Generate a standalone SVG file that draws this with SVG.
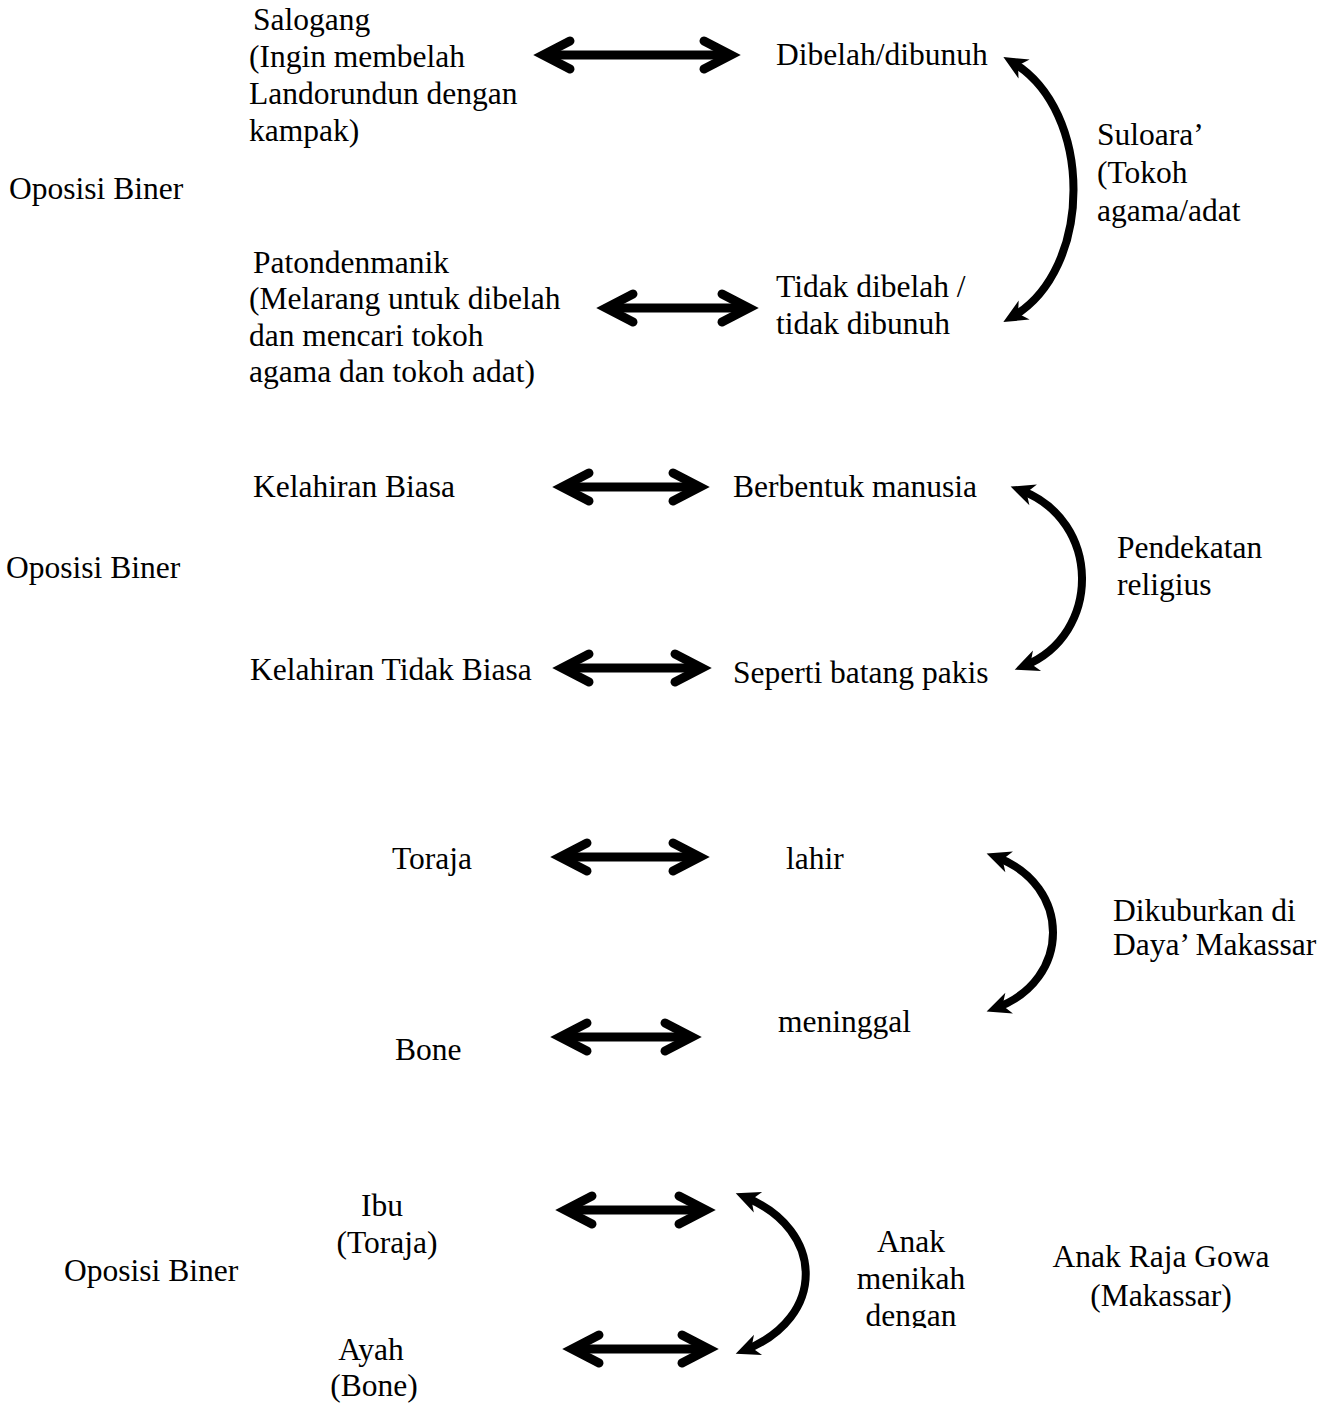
<svg xmlns="http://www.w3.org/2000/svg" width="1338" height="1404" viewBox="0 0 1338 1404">
<style>
text{font-family:"Liberation Serif","Times New Roman",serif;font-size:31.5px;fill:#000}
.c{text-anchor:middle}
.ar{fill:none;stroke:#000;stroke-width:9}
.hd{fill:none;stroke:#000;stroke-width:9;stroke-linecap:round;stroke-linejoin:miter;stroke-miterlimit:10}
.cv{fill:none;stroke:#000;stroke-width:8}
</style>
<defs>
<marker id="ah" viewBox="-26 -14 28 28" markerWidth="28" markerHeight="28" refX="-10" refY="0" orient="auto-start-reverse" markerUnits="userSpaceOnUse">
<path d="M-24,-11 L0,0 L-24,11 L-17,0 Z" fill="#000"/>
</marker>
<clipPath id="clipd"><rect x="0" y="0" width="1338" height="1328"/></clipPath>
</defs>
<g id="connectors">
<g id="a1"><line class="ar" x1="545" y1="55" x2="729" y2="55"/><path class="hd" d="M570,41 L543,55 L570,69 M704,41 L731,55 L704,69"/></g>
<g id="a2"><line class="ar" x1="608" y1="308" x2="747" y2="308"/><path class="hd" d="M633,294 L606,308 L633,322 M722,294 L749,308 L722,322"/></g>
<g id="a3"><line class="ar" x1="564" y1="487" x2="698" y2="487"/><path class="hd" d="M589,473 L562,487 L589,501 M673,473 L700,487 L673,501"/></g>
<g id="a4"><line class="ar" x1="564" y1="668" x2="700" y2="668"/><path class="hd" d="M589,654 L562,668 L589,682 M675,654 L702,668 L675,682"/></g>
<g id="a5"><line class="ar" x1="562" y1="857" x2="698" y2="857"/><path class="hd" d="M587,843 L560,857 L587,871 M673,843 L700,857 L673,871"/></g>
<g id="a6"><line class="ar" x1="562" y1="1037" x2="690" y2="1037"/><path class="hd" d="M587,1023 L560,1037 L587,1051 M665,1023 L692,1037 L665,1051"/></g>
<g id="a7"><line class="ar" x1="567" y1="1210" x2="704" y2="1210"/><path class="hd" d="M592,1196 L565,1210 L592,1224 M679,1196 L706,1210 L679,1224"/></g>
<g id="a8"><line class="ar" x1="574" y1="1349" x2="707" y2="1349"/><path class="hd" d="M599,1335 L572,1349 L599,1363 M682,1335 L709,1349 L682,1363"/></g>
<path id="c1" class="cv" d="M1012,62 C1094,110 1094,270 1012,317" marker-start="url(#ah)" marker-end="url(#ah)"/>
<path id="c2" class="cv" d="M1020,490 C1102,520 1102,635 1024,666" marker-start="url(#ah)" marker-end="url(#ah)"/>
<path id="c3" class="cv" d="M996,857 C1072,885 1072,980 996,1008" marker-start="url(#ah)" marker-end="url(#ah)"/>
<path id="c4" class="cv" d="M745,1197 C826,1230 826,1318 745,1350" marker-start="url(#ah)" marker-end="url(#ah)"/>
</g>
<g id="n-salogang"><text x="253" y="30">Salogang</text><text x="249" y="67">(Ingin membelah</text><text x="249" y="104">Landorundun dengan</text><text x="249" y="141">kampak)</text></g>
<g id="n-dibelah"><text x="776" y="65">Dibelah/dibunuh</text></g>
<g id="n-suloara"><text x="1097" y="145">Suloara’</text><text x="1097" y="183">(Tokoh</text><text x="1097" y="221">agama/adat</text></g>
<g id="n-oposisi1"><text x="9" y="199">Oposisi Biner</text></g>
<g id="n-patonden"><text x="253" y="273">Patondenmanik</text><text x="249" y="309">(Melarang untuk dibelah</text><text x="249" y="346">dan mencari tokoh</text><text x="249" y="382">agama dan tokoh adat)</text></g>
<g id="n-tidak"><text x="776" y="297">Tidak dibelah /</text><text x="776" y="334">tidak dibunuh</text></g>
<g id="n-kb"><text x="253" y="497">Kelahiran Biasa</text></g>
<g id="n-bm"><text x="733" y="497">Berbentuk manusia</text></g>
<g id="n-pend"><text x="1117" y="558">Pendekatan</text><text x="1117" y="595">religius</text></g>
<g id="n-oposisi2"><text x="6" y="578">Oposisi Biner</text></g>
<g id="n-ktb"><text x="250" y="680">Kelahiran Tidak Biasa</text></g>
<g id="n-sbp"><text x="733" y="683">Seperti batang pakis</text></g>
<g id="n-toraja"><text x="392" y="869">Toraja</text></g>
<g id="n-lahir"><text x="786" y="869">lahir</text></g>
<g id="n-dikubur"><text x="1113" y="921">Dikuburkan di</text><text x="1113" y="955">Daya’ Makassar</text></g>
<g id="n-meninggal"><text x="778" y="1032">meninggal</text></g>
<g id="n-bone"><text x="395" y="1060">Bone</text></g>
<g id="n-ibu"><text class="c" x="382" y="1216">Ibu</text><text class="c" x="387" y="1253">(Toraja)</text></g>
<g id="n-oposisi3"><text x="64" y="1281">Oposisi Biner</text></g>
<g id="n-anak" clip-path="url(#clipd)"><text class="c" x="911" y="1252">Anak</text><text class="c" x="911" y="1289">menikah</text><text class="c" x="911" y="1326">dengan</text></g>
<g id="n-raja"><text class="c" x="1161" y="1267">Anak Raja Gowa</text><text class="c" x="1161" y="1306">(Makassar)</text></g>
<g id="n-ayah"><text class="c" x="371" y="1360">Ayah</text><text class="c" x="374" y="1396">(Bone)</text></g>
</svg>
